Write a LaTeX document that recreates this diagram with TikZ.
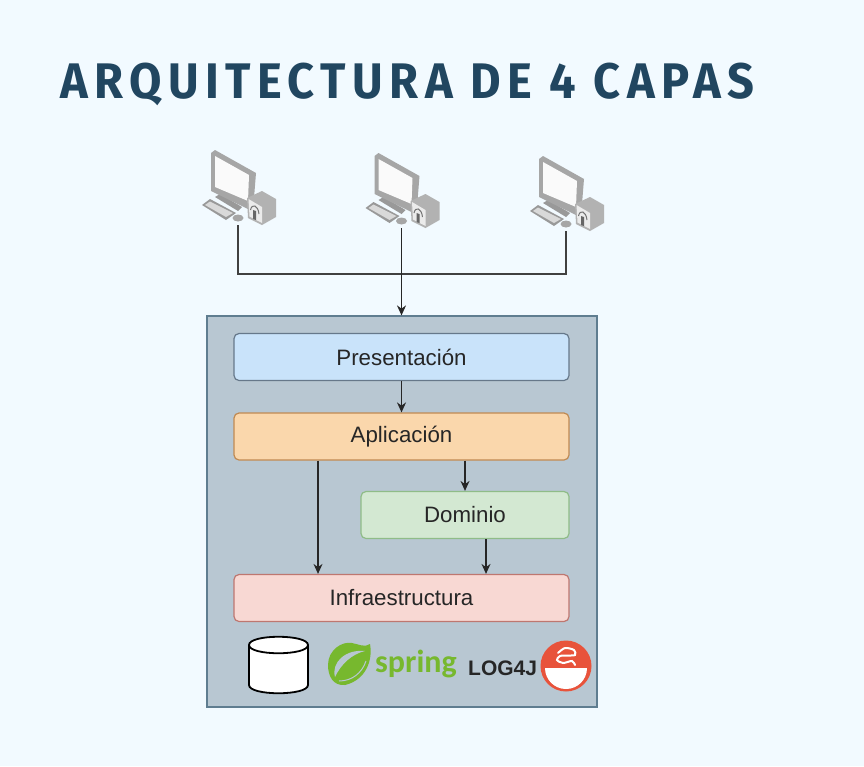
\documentclass[tikz,border=0pt]{standalone}
\usepackage{fontspec}
\setmainfont{Liberation Sans}
\newfontfamily\titlefont[FakeStretch=0.94,LetterSpace=12.9]{Fira Sans Medium}[BoldFont={Fira Sans Bold}]
\newfontfamily\springfont{Carlito}
\usetikzlibrary{arrows.meta}
\definecolor{fondo}{HTML}{F2FAFF}
\definecolor{titulo}{HTML}{214660}
\definecolor{capas}{HTML}{B8C7D2}
\definecolor{capasborde}{HTML}{5F7D90}
\definecolor{azul}{HTML}{C9E3FA}
\definecolor{azulborde}{HTML}{66788A}
\definecolor{naranja}{HTML}{FAD7AC}
\definecolor{naranjaborde}{HTML}{C08A52}
\definecolor{menta}{HTML}{D3E8D2}
\definecolor{mentaborde}{HTML}{8FBC88}
\definecolor{rosa}{HTML}{F8D8D3}
\definecolor{rosaborde}{HTML}{BE7770}
\definecolor{verde}{HTML}{77B82E}
\definecolor{rojo}{HTML}{E8533B}
\tikzset{
	capa/.style={draw, rounded corners=5pt, line width=1.2pt, minimum width=335pt, minimum height=47pt, inner sep=0pt, text=black!85, font=\fontsize{22.3}{24}\selectfont},
	flecha/.style={draw=black!85, line width=1.4pt, -{Stealth[length=10pt,width=9pt]}},
	linea/.style={draw=black!75, line width=1.2pt},
	pics/computer/.style={code={
		\coordinate (-cola) at (0,0);
		\fill[black!40] (-23,-28) -- (-18,-31) -- (4,-18) -- (0,-14) -- cycle;
		\fill[black!35] (-27,-72) -- (-23,-75) -- (18,-52) -- (16,-27) -- (10,-16) -- (-27,-34) -- cycle;
		\fill[black!2] (-23,-69) -- (11,-50) -- (10,-24) -- (-23,-38) -- cycle;
		\fill[black!40] (-36,-20) -- (-28,-26) -- (-2,-12) -- (-12,-5) -- cycle;
		\fill[black!15] (-33,-20) -- (-28,-23.5) -- (-5,-12) -- (-12,-8) -- cycle;
		\fill[black!35] (0,-7) ellipse (5.5pt and 3.5pt);
		\fill[black!30] (9,-27) -- (24,-34) -- (38,-26) -- (38,-8) -- (24,0) -- (10,-7) -- cycle;
		\fill[black!8] (10.5,-26) -- (24,-18) -- (24,-2) -- (11.5,-8.5) -- cycle;
		\fill[black!60] (15,-15) -- (18,-14) -- (18,-5) -- (15,-6) -- cycle;
		\draw[black!55, line width=1pt] (12.5,-15) .. controls (14,-22) and (20,-20) .. (21,-11);
	}}
}
\begin{document}
\begin{tikzpicture}[x=1pt, y=-1pt]
	\useasboundingbox (0,0) rectangle (864,766);
	\fill[fondo] (0,0) rectangle (864,766);

	\node[anchor=west, inner sep=0pt, text=titulo, font=\fontsize{50}{60}\titlefont\bfseries] (titulo) at (60,84) {ARQUITECTURA DE 4 CAPAS};

	\pic (pcA) at (238,225) {computer};
	\pic (pcB) at (401.5,228) {computer};
	\pic (pcC) at (566,231) {computer};

	\node[draw=capasborde, fill=capas, line width=1.2pt, minimum width=390pt, minimum height=391pt, inner sep=0pt] (capas) at (402,511.5) {};

	\node[capa, fill=azul, draw=azulborde] (presentacion) at (401.5,357) {Presentación};
	\node[capa, fill=naranja, draw=naranjaborde] (aplicacion) at (401.5,436.5) {Aplicación};
	\node[capa, fill=menta, draw=mentaborde, minimum width=208pt] (dominio) at (465,515) {Dominio};
	\node[capa, fill=rosa, draw=rosaborde] (infra) at (401.5,598) {Infraestructura};

	\coordinate (busA) at (238,274);
	\coordinate (busC) at (566,274);
	\draw[linea] (pcA-cola) -- (busA) -- (busC) -- (pcC-cola);
	\draw[flecha] (pcB-cola) -- (capas.north -| pcB-cola);
	\draw[flecha] (presentacion) -- (aplicacion);
	\draw[flecha] ([xshift=-83.5pt]aplicacion.south) -- ([xshift=-83.5pt]infra.north);
	\draw[flecha] (aplicacion.south -| dominio.north) -- (dominio.north);
	\draw[flecha] ([xshift=21pt]dominio.south) -- ([xshift=21pt]dominio.south |- infra.north);

	% base de datos
	\draw[fill=white, line width=1.8pt] (249,645) -- (249,685) .. controls (249,696) and (308,696) .. (308,685) -- (308,645) .. controls (308,634) and (249,634) .. (249,645) -- cycle;
	\draw[line width=1.8pt] (249,645) .. controls (249,656) and (308,656) .. (308,645);

	% logos
	\fill[verde] (370,644) .. controls (373,660) and (366,680) .. (345,685) .. controls (333,686) and (328,676) .. (328,665) .. controls (328,650) and (342,641) .. (352,643) .. controls (358,644) and (365,648) .. (370,644) -- cycle;
	\fill[capas] (335,677) .. controls (331,662) and (346,649) .. (365,651) .. controls (352,654) and (341,664) .. (335,677) -- cycle;
	\draw[capas, line width=1pt] (339,681) .. controls (352,681) and (362,673) .. (366,661);
	\node[anchor=base west, inner sep=0pt, text=verde, font=\fontsize{32}{38}\springfont\bfseries] (spring) at (375,672) {spring};
	\node[anchor=base west, inner sep=0pt, text=black!85, font=\fontsize{21}{24}\selectfont\bfseries] (log4j) at (468,675) {LOG4J};
	\fill[rojo] (566,666) circle (25.5pt);
	\fill[white] (545,668) -- (587,668) arc (0:-180:21pt) -- cycle;
	\draw[white, line width=2pt, line cap=round] plot[smooth] coordinates {(558,653) (565,648) (574,650) (575,655) (568,655.5) (560,656) (557,660) (563,663) (572,661) (575,665)};
\end{tikzpicture}
\end{document}
